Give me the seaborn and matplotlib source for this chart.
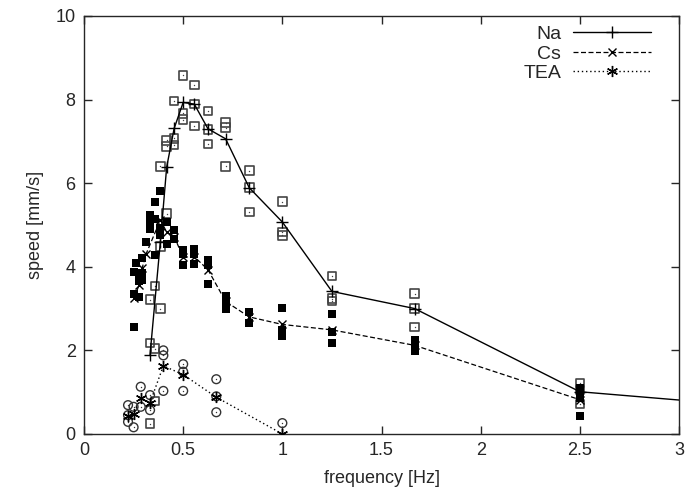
import numpy as np
import pandas as pd
import matplotlib
matplotlib.use("Agg")
import matplotlib.pyplot as plt
import seaborn as sns

# Mittelwerte (Linien)
na_freq = [0.333, 0.385, 0.4167, 0.4545, 0.5, 0.556, 0.625, 0.714, 0.833, 1.0, 1.25, 1.667, 2.5, 3.333]
na_speed = [1.90, 4.60, 6.38, 7.31, 7.93, 7.89, 7.30, 7.06, 5.89, 5.07, 3.41, 3.00, 1.01, 0.68]

cs_freq = [0.25, 0.278, 0.294, 0.3125, 0.385, 0.4167, 0.4545, 0.5, 0.556, 0.625, 0.714, 0.833, 1.0, 1.25, 1.667, 2.5]
cs_speed = [3.25, 3.56, 3.98, 4.30, 5.12, 4.83, 4.72, 4.23, 4.24, 3.93, 3.17, 2.80, 2.62, 2.49, 2.12, 0.82]

tea_freq = [0.222, 0.25, 0.286, 0.333, 0.4, 0.5, 0.667, 1.0]
tea_speed = [0.44, 0.48, 0.85, 0.75, 1.63, 1.42, 0.88, 0.0]

# Einzelmessungen
na_raw_freq = [0.333, 0.333, 0.333, 0.357, 0.357, 0.357, 0.385, 0.385, 0.385,
               0.4167, 0.4167, 0.4167, 0.4545, 0.4545, 0.4545, 0.5, 0.5, 0.5,
               0.556, 0.556, 0.556, 0.625, 0.625, 0.625, 0.714, 0.714, 0.714,
               0.833, 0.833, 0.833, 1.0, 1.0, 1.0, 1.25, 1.25, 1.25,
               1.667, 1.667, 1.667, 2.5, 2.5, 2.5]
na_raw_speed = [3.21, 2.18, 0.25, 3.54, 2.04, 0.79, 6.40, 4.49, 3.00,
                7.02, 6.88, 5.27, 7.96, 7.07, 6.91, 8.58, 7.67, 7.52,
                8.35, 7.89, 7.37, 7.73, 7.28, 6.94, 7.45, 7.33, 6.40,
                6.30, 5.89, 5.31, 5.56, 4.83, 4.75, 3.78, 3.24, 3.18,
                3.36, 3.00, 2.56, 1.22, 1.05, 0.72]

cs_raw_freq = [0.25, 0.25, 0.25, 0.263, 0.278, 0.278, 0.278, 0.294, 0.294, 0.294,
               0.3125, 0.333, 0.333, 0.333, 0.333, 0.357, 0.357, 0.357,
               0.385, 0.385, 0.385, 0.385, 0.4167, 0.4167, 0.4545, 0.4545,
               0.5, 0.5, 0.5, 0.556, 0.556, 0.556, 0.625, 0.625, 0.625,
               0.714, 0.714, 0.714, 0.833, 0.833, 1.0, 1.0, 1.0,
               1.25, 1.25, 1.25, 1.667, 1.667, 1.667, 2.5, 2.5, 2.5, 2.5]
cs_raw_speed = [3.87, 3.36, 2.55, 4.09, 3.72, 3.65, 3.28, 4.22, 3.85, 3.68,
                4.59, 5.23, 5.10, 5.00, 4.90, 5.56, 5.15, 4.27,
                5.80, 4.92, 4.80, 4.75, 5.08, 4.55, 4.87, 4.67,
                4.39, 4.30, 4.03, 4.43, 4.30, 4.06, 4.15, 4.05, 3.58,
                3.30, 3.15, 3.00, 2.92, 2.66, 3.01, 2.48, 2.35,
                2.87, 2.44, 2.18, 2.24, 2.17, 1.99, 1.10, 0.95, 0.85, 0.42]

tea_raw_freq = [0.222, 0.222, 0.222, 0.25, 0.25, 0.286, 0.286, 0.333, 0.333,
                0.4, 0.4, 0.4, 0.5, 0.5, 0.5, 0.667, 0.667, 0.667, 1.0]
tea_raw_speed = [0.69, 0.45, 0.29, 0.65, 0.16, 1.13, 0.65, 0.93, 0.57,
                 2.00, 1.88, 1.03, 1.67, 1.49, 1.03, 1.31, 0.90, 0.52, 0.26]

sns.set_style("ticks")
plt.rcParams['font.family'] = ['Liberation Sans', 'DejaVu Sans']

fig = plt.figure(figsize=(6.88, 4.97), dpi=100)
ax = fig.add_axes([0.1221, 0.1268, 0.8649, 0.8412])

# Rohdaten als Punkte
sns.scatterplot(x=na_raw_freq, y=na_raw_speed, ax=ax, marker='s', s=38,
                facecolor='none', edgecolor='#444444', linewidth=1.2, zorder=3)
sns.scatterplot(x=na_raw_freq, y=na_raw_speed, ax=ax, marker='.', s=4,
                color='#444444', linewidth=0, zorder=3)
sns.scatterplot(x=cs_raw_freq, y=cs_raw_speed, ax=ax, marker='s', s=38,
                color='black', linewidth=0, zorder=3)
sns.scatterplot(x=tea_raw_freq, y=tea_raw_speed, ax=ax, marker='o', s=40,
                facecolor='none', edgecolor='#333333', linewidth=1.0, zorder=3)
sns.scatterplot(x=tea_raw_freq, y=tea_raw_speed, ax=ax, marker='.', s=4,
                color='#333333', linewidth=0, zorder=3)

# Mittelwerte als Linien
sns.lineplot(x=na_freq, y=na_speed, ax=ax, color='black', linewidth=1.0,
             marker='+', markersize=8, markeredgewidth=1.0,
             markeredgecolor='black', label='Na', zorder=4)
sns.lineplot(x=cs_freq, y=cs_speed, ax=ax, color='black', linewidth=0.9,
             linestyle=(0, (4, 2)), marker='x', markersize=6, markeredgewidth=1.0,
             markeredgecolor='black', label='Cs', zorder=4)
sns.lineplot(x=tea_freq, y=tea_speed, ax=ax, color='black', linewidth=1.0,
             linestyle=(0, (1, 2)), marker=(6, 2, 0), markersize=8,
             markeredgewidth=1.0, markeredgecolor='black', label='TEA', zorder=4)

ax.set_xlim(0, 3)
ax.set_ylim(0, 10)
ax.set_xticks([0, 0.5, 1, 1.5, 2, 2.5, 3])
ax.set_xticklabels(['0', '0.5', '1', '1.5', '2', '2.5', '3'])
ax.set_yticks([0, 2, 4, 6, 8, 10])
ax.tick_params(direction='in', top=True, right=True, length=6, width=1,
               labelsize=13, pad=6)
for sp in ax.spines.values():
    sp.set_linewidth(1.0)
    sp.set_visible(True)

ax.set_xlabel('frequency [Hz]', fontsize=13, labelpad=8)
ax.set_ylabel('speed [mm/s]', fontsize=13, labelpad=8)

ax.legend(loc='upper right', bbox_to_anchor=(0.975, 1.01), frameon=False,
          markerfirst=False, handlelength=4.0, fontsize=14, labelspacing=0.1,
          borderaxespad=0.3, handletextpad=0.6)

fig.savefig('out.png', dpi=100)
